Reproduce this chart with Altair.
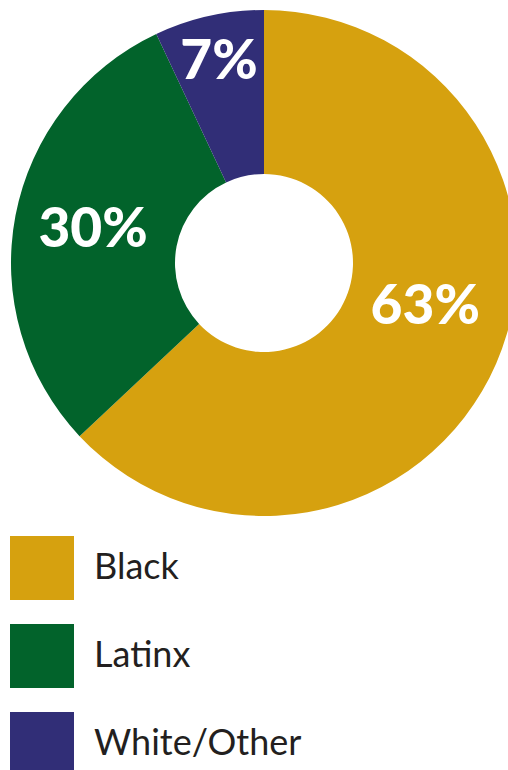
import altair as alt
import pandas as pd

categories = ["Black", "Latinx", "White/Other"]
values = [63, 30, 7]
labels = ["63%", "30%", "7%"]
colors = ["#D6A10F", "#02632B", "#312E77"]

df = pd.DataFrame({"group": categories, "share": values, "label": labels,
                   "idx": list(range(len(categories)))})
total = sum(values)

CX, CY = 264, 263

theta_scale = alt.Scale(domain=[0, total], range=[0, 6.283185307179586])

arcs = alt.Chart(df).mark_arc(outerRadius=253, innerRadius=89, stroke=None).encode(
    theta=alt.Theta("share:Q", stack=True, scale=theta_scale),
    order=alt.Order("idx:Q"),
    x=alt.value(CX),
    y=alt.value(CY),
    color=alt.Color(
        "group:N",
        scale=alt.Scale(domain=categories, range=colors),
        legend=alt.Legend(
            title=None,
            orient="none",
            legendX=10,
            legendY=536,
            symbolType="square",
            symbolSize=4096,
            symbolStrokeWidth=0,
            symbolOpacity=1,
            labelFontSize=36,
            labelFont="Lato",
            labelColor="#231F20",
            labelOffset=20,
            rowPadding=24,
            padding=0,
            labelLimit=400,
        ),
    ),
)

text_base = alt.Chart(df).transform_window(
    cum="sum(share)", sort=[alt.SortField("idx")], frame=[None, 0]
).transform_calculate(
    mid="datum.cum - datum.share / 2"
)

text_specs = {
    "Black": dict(radius=167, dx=8, dy=-22),
    "Latinx": dict(radius=174, dx=0, dy=0),
    "White/Other": dict(radius=206, dx=0, dy=0),
}

layers = [arcs]
for cat, spec in text_specs.items():
    t = text_base.transform_filter(alt.datum.group == cat).mark_text(
        radius=spec["radius"], dx=spec["dx"], dy=spec["dy"],
        font="Lato", fontWeight=900, fontSize=55, color="white",
        align="center", baseline="middle",
    ).encode(
        theta=alt.Theta("mid:Q", stack=None, scale=theta_scale),
        x=alt.value(CX),
        y=alt.value(CY),
        text="label:N",
    )
    layers.append(t)

chart = alt.layer(*layers).properties(
    width=508, height=770, autosize=alt.AutoSizeParams(type="none"), padding=0
).configure_view(stroke=None)

chart.save("out.html", embed_options={"renderer": "svg", "actions": False})
